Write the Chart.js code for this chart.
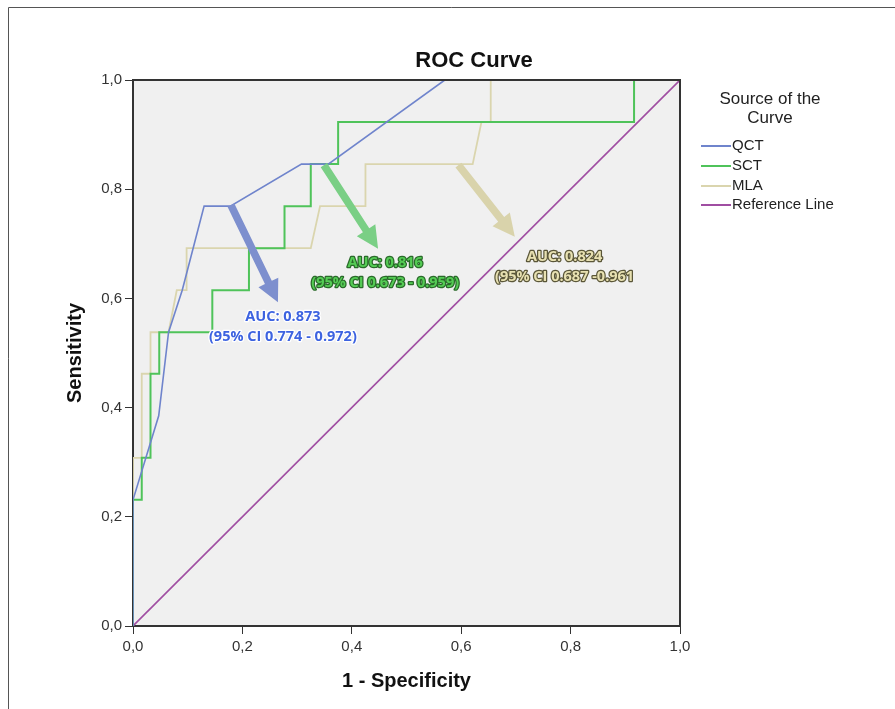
<!DOCTYPE html>
<html>
<head>
<meta charset="utf-8">
<script src="https://cdn.jsdelivr.net/npm/chart.js@4/dist/chart.umd.min.js"></script>
<style>
  body { margin: 0; background: #fff; }
  canvas { display: block; }
</style>
</head>
<body>
<canvas id="roc" width="895" height="709"></canvas>
<script>
// ROC curve values (x = 1 - specificity, y = sensitivity)
var qctX = [0, 0, 0.047, 0.065, 0.09, 0.13, 0.178, 0.308, 0.357, 0.57, 1];
var qctY = [0, 0.231, 0.385, 0.538, 0.615, 0.769, 0.769, 0.846, 0.846, 1, 1];

var sctX = [0, 0, 0.016, 0.016, 0.032, 0.032, 0.048, 0.048, 0.145, 0.145, 0.212, 0.212, 0.277, 0.277, 0.325, 0.325, 0.375, 0.375, 0.916, 0.916, 1];
var sctY = [0, 0.231, 0.231, 0.308, 0.308, 0.462, 0.462, 0.538, 0.538, 0.615, 0.615, 0.692, 0.692, 0.769, 0.769, 0.846, 0.846, 0.923, 0.923, 1, 1];

var mlaX = [0, 0, 0.016, 0.016, 0.032, 0.032, 0.065, 0.08, 0.098, 0.098, 0.325, 0.342, 0.425, 0.425, 0.621, 0.637, 0.654, 0.654, 1];
var mlaY = [0, 0.308, 0.308, 0.462, 0.462, 0.538, 0.538, 0.615, 0.615, 0.692, 0.692, 0.769, 0.769, 0.846, 0.846, 0.923, 0.923, 1, 1];

var refX = [0, 1];
var refY = [0, 1];

var seriesNames = ["QCT", "SCT", "MLA", "Reference Line"];
var tickLabels = ["0,0", "0,2", "0,4", "0,6", "0,8", "1,0"];

// AUC callouts: arrow start, arrow tip, text anchor (data units)
var callouts = [
  { lines: ["AUC: 0.873", "(95% CI 0.774 - 0.972)"], from: [0.179, 0.771], to: [0.265, 0.593], at: [0.274, 0.547],
    arrow: "#7d8fce", fill: "#3d63e0", stroke: "#ffffff" },
  { lines: ["AUC: 0.816", "(95% CI 0.673 - 0.959)"], from: [0.349, 0.844], to: [0.448, 0.691], at: [0.461, 0.647],
    arrow: "#7acf85", fill: "#55cc55", stroke: "#2a6a2a" },
  { lines: ["AUC: 0.824", "(95% CI 0.687 -0.961"], from: [0.595, 0.844], to: [0.698, 0.713], at: [0.789, 0.658],
    arrow: "#d9d3ab", fill: "#e8e1b2", stroke: "#5a5638" }
];

function pts(xs, ys) {
  return xs.map(function (x, i) { return { x: x, y: ys[i] }; });
}

var colors = ["#6f84cc", "#4fc35a", "#dad5ae", "#a04ea2"];

var frame = {
  id: "frame",
  beforeDraw: function (chart) {
    var a = chart.chartArea, ctx = chart.ctx;
    ctx.save();
    ctx.fillStyle = "#f0f0f0";
    ctx.fillRect(a.left, a.top, a.right - a.left, a.bottom - a.top);
    // outer frame
    ctx.strokeStyle = "#555";
    ctx.lineWidth = 1;
    ctx.beginPath();
    ctx.moveTo(8.5, 709);
    ctx.lineTo(8.5, 7.5);
    ctx.lineTo(895, 7.5);
    ctx.stroke();
    ctx.restore();
  },
  afterDatasetsDraw: function (chart) {
    var a = chart.chartArea, ctx = chart.ctx;
    var xs = chart.scales.x, ys = chart.scales.y;
    ctx.save();
    ctx.strokeStyle = "#333";
    ctx.lineWidth = 2;
    ctx.beginPath();
    ctx.moveTo(a.left, a.top);
    ctx.lineTo(a.right, a.top);
    ctx.lineTo(a.right, a.bottom);
    ctx.stroke();

    // arrows
    callouts.forEach(function (c) {
      var x0 = xs.getPixelForValue(c.from[0]), y0 = ys.getPixelForValue(c.from[1]);
      var x1 = xs.getPixelForValue(c.to[0]), y1 = ys.getPixelForValue(c.to[1]);
      var dx = x1 - x0, dy = y1 - y0, len = Math.sqrt(dx * dx + dy * dy);
      var ux = dx / len, uy = dy / len, nx = -uy, ny = ux;
      var head = 22, hw = 11, sw = 3.8;
      var bx = x1 - ux * head, by = y1 - uy * head;
      ctx.fillStyle = c.arrow;
      ctx.beginPath();
      ctx.moveTo(x0 + nx * sw, y0 + ny * sw);
      ctx.lineTo(bx + nx * sw, by + ny * sw);
      ctx.lineTo(bx + nx * hw, by + ny * hw);
      ctx.lineTo(x1, y1);
      ctx.lineTo(bx - nx * hw, by - ny * hw);
      ctx.lineTo(bx - nx * sw, by - ny * sw);
      ctx.lineTo(x0 - nx * sw, y0 - ny * sw);
      ctx.closePath();
      ctx.fill();
    });

    // callout text
    ctx.font = "bold 14.5px 'Open Sans'";
    ctx.textAlign = "center";
    ctx.textBaseline = "middle";
    ctx.lineJoin = "round";
    callouts.forEach(function (c) {
      var cx = xs.getPixelForValue(c.at[0]), cy = ys.getPixelForValue(c.at[1]);
      c.lines.forEach(function (t, i) {
        var ty = cy + (i - 0.5) * 20;
        ctx.strokeStyle = c.stroke;
        ctx.lineWidth = 2.5;
        ctx.strokeText(t, cx, ty);
        ctx.fillStyle = c.fill;
        ctx.fillText(t, cx, ty);
      });
    });
    ctx.restore();
  },
  afterDraw: function (chart) {
    var ctx = chart.ctx;
    ctx.save();
    // title
    ctx.fillStyle = "#111";
    ctx.font = "bold 22px 'Liberation Sans'";
    ctx.textAlign = "center";
    ctx.textBaseline = "middle";
    ctx.fillText("ROC Curve", 474, 61);

    // legend
    ctx.font = "17px 'Liberation Sans'";
    ctx.fillStyle = "#222";
    ctx.fillText("Source of the", 770, 99);
    ctx.fillText("Curve", 770, 118);
    ctx.font = "15px 'Liberation Sans'";
    ctx.textAlign = "left";
    var rows = [146, 166, 186, 205];
    chart.data.datasets.forEach(function (ds, i) {
      ctx.strokeStyle = ds.borderColor;
      ctx.lineWidth = 2;
      ctx.beginPath();
      ctx.moveTo(701, rows[i]);
      ctx.lineTo(731, rows[i]);
      ctx.stroke();
      ctx.fillStyle = "#222";
      ctx.fillText(ds.label, 732, rows[i]);
    });
    ctx.restore();
  }
};

var ctx = document.getElementById("roc").getContext("2d");
var rocChart = new Chart(ctx, {
  type: "line",
  data: {
    datasets: [
      { label: seriesNames[0], data: pts(qctX, qctY), borderColor: colors[0], borderWidth: 1.6 },
      { label: seriesNames[1], data: pts(sctX, sctY), borderColor: colors[1], borderWidth: 2 },
      { label: seriesNames[2], data: pts(mlaX, mlaY), borderColor: colors[2], borderWidth: 1.8 },
      { label: seriesNames[3], data: pts(refX, refY), borderColor: colors[3], borderWidth: 1.6 }
    ]
  },
  options: {
    responsive: false,
    animation: false,
    devicePixelRatio: 1,
    elements: { point: { radius: 0 }, line: { tension: 0 } },
    layout: { padding: { left: 0, top: 80, right: 215, bottom: 0 } },
    plugins: { legend: { display: false }, tooltip: { enabled: false } },
    scales: {
      x: {
        type: "linear",
        min: 0,
        max: 1,
        afterFit: function (s) { s.height = 83; },
        grid: { drawOnChartArea: false, drawTicks: true, tickLength: 8, color: "#333" },
        border: { color: "#333", width: 2 },
        ticks: {
          stepSize: 0.2,
          padding: 4,
          color: "#333",
          font: { family: "'Liberation Sans'", size: 15 },
          callback: function (v, i) { return tickLabels[i]; }
        },
        title: {
          display: true,
          text: "1 - Specificity",
          color: "#111",
          font: { family: "'Liberation Sans'", size: 20, weight: "bold" },
          padding: { top: 0, bottom: 16 }
        }
      },
      y: {
        type: "linear",
        min: 0,
        max: 1,
        afterFit: function (s) { s.width = 133; },
        grid: { drawOnChartArea: false, drawTicks: true, tickLength: 8, color: "#333" },
        border: { color: "#333", width: 2 },
        ticks: {
          stepSize: 0.2,
          padding: 3,
          color: "#333",
          font: { family: "'Liberation Sans'", size: 15 },
          callback: function (v, i) { return tickLabels[i]; }
        },
        title: {
          display: true,
          text: "Sensitivity",
          color: "#111",
          font: { family: "'Liberation Sans'", size: 20, weight: "bold" },
          padding: { top: 63, bottom: 0 }
        }
      }
    }
  },
  plugins: [frame]
});
</script>
</body>
</html>
